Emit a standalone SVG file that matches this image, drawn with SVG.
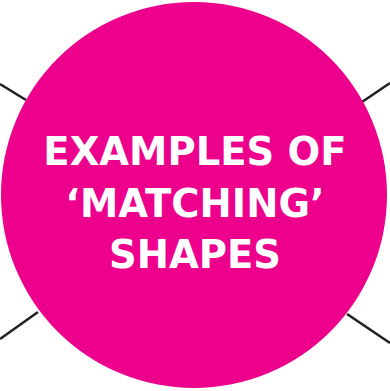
<svg xmlns="http://www.w3.org/2000/svg" width="390" height="391" viewBox="0 0 390 391">
<style>
.c{stroke:#222;stroke-width:2.6;fill:none}
.t{font-family:"DejaVu Sans","Liberation Sans",sans-serif;font-weight:bold;font-size:38.5px;fill:#fff;text-anchor:middle}
</style>
<rect width="390" height="391" fill="#fff"/>
<g id="connectors">
<line class="c" x1="0" y1="84" x2="26" y2="100"/>
<line class="c" x1="362" y1="102" x2="390" y2="83"/>
<line class="c" x1="0" y1="339" x2="38" y2="312"/>
<line class="c" x1="347" y1="314" x2="390" y2="343"/>
</g>
<g id="center">
<circle cx="194" cy="195" r="193" fill="#EC008C"/>
<text class="t" x="195" y="165">EXAMPLES OF</text>
<text class="t" x="195" y="217">‘MATCHING’</text>
<text class="t" x="195" y="268">SHAPES</text>
</g>
</svg>
